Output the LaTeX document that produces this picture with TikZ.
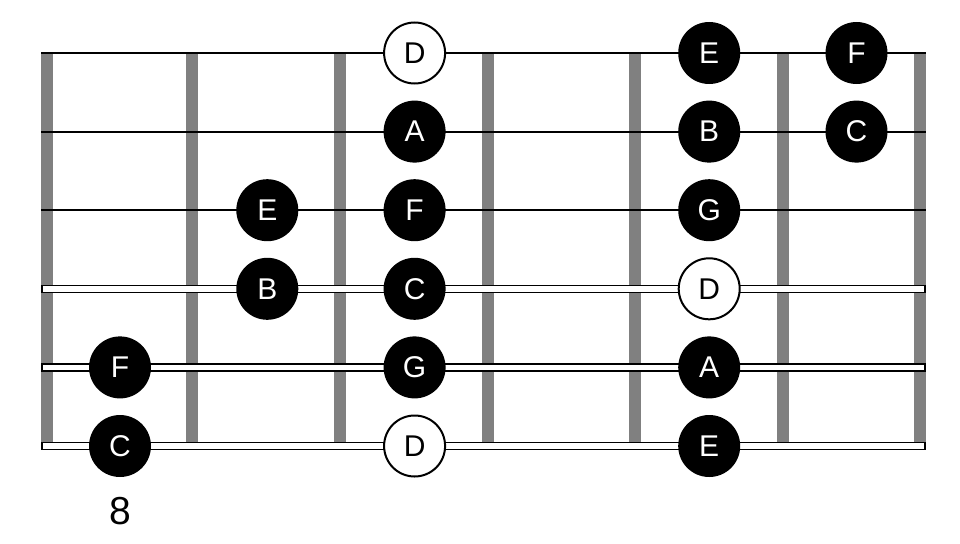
\documentclass[tikz,border=0pt]{standalone}
\usepackage{fontspec}
\setmainfont{Liberation Sans}
\definecolor{fretgray}{gray}{0.5}
\tikzset{
  note/.style={circle, fill=black, text=white, minimum size=62pt, inner sep=0pt,
    font=\fontsize{30}{30}\selectfont},
  rootnote/.style={note, fill=white, text=black, draw=black, line width=2pt, minimum size=61pt},
}
\begin{document}
\begin{tikzpicture}[x=1pt, y=-1pt]
      \useasboundingbox (0,0) rectangle (960,543);

      \foreach \x in {46.5, 192, 340, 488, 635, 783, 920}
        \fill[fretgray] (\x-6, 53) rectangle (\x+6, 446);

      \foreach \s in {1,...,3}
        \draw[line width=2.2pt] (41, {53+78.6*(\s-1)}) -- (926, {53+78.6*(\s-1)});

      \foreach \s in {4,...,6}
        \draw[fill=white, line width=1.3pt] (42, {53+78.6*(\s-1)-3.5}) rectangle (925, {53+78.6*(\s-1)+3.5});

      \foreach \s/\f/\n in {1/5/E, 1/6/F, 2/3/A, 2/5/B, 2/6/C, 3/2/E, 3/3/F, 3/5/G,
                           4/2/B, 4/3/C, 5/1/F, 5/3/G, 5/5/A, 6/1/C, 6/5/E}
        \node[note] (n\s\f) at ({120+147.3*(\f-1)}, {53+78.6*(\s-1)}) {\n};

      \foreach \s/\f in {1/3, 4/5, 6/3}
        \node[rootnote] (n\s\f) at ({120+147.3*(\f-1)}, {53+78.6*(\s-1)}) {D};

      \node[font=\fontsize{39}{39}\selectfont] (fret) at (120, 511) {8};
    \end{tikzpicture}
\end{document}
